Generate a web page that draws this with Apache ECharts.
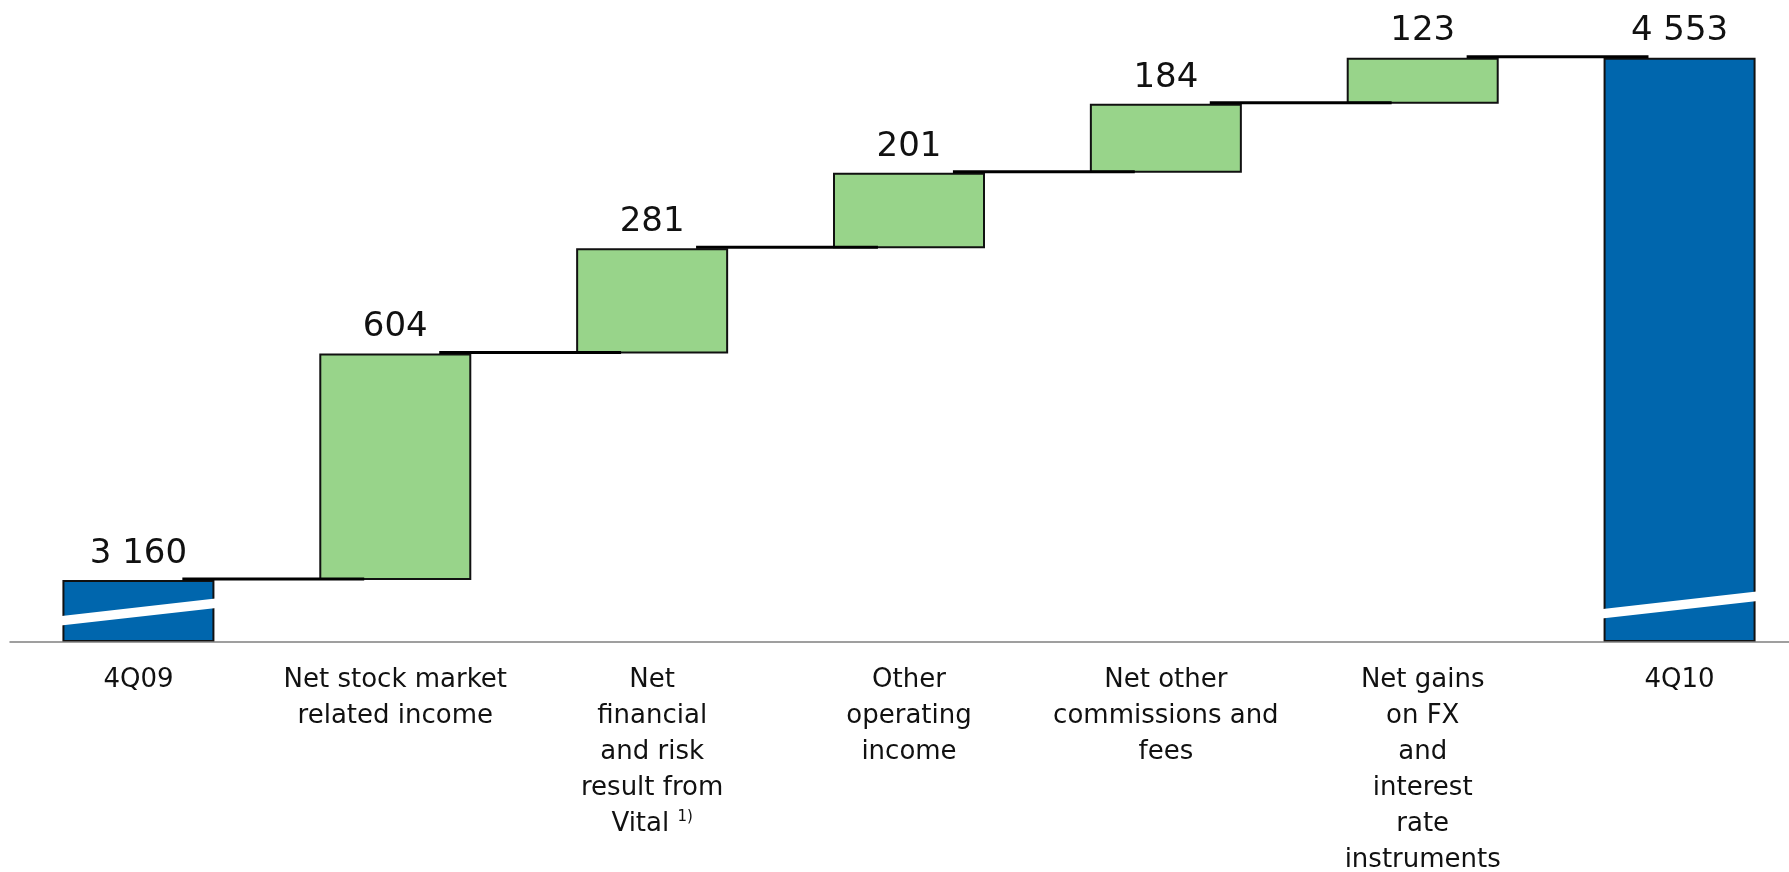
<!DOCTYPE html>
<html>
<head>
<meta charset="utf-8">
<title>4Q09 – 4Q10 income bridge</title>
<script src="https://cdn.jsdelivr.net/npm/echarts@6/dist/echarts.min.js"></script>
<style>
  html, body { margin: 0; padding: 0; background: #fff; }
  #chart { width: 1789px; height: 872px; }
</style>
</head>
<body>
<div id="chart"></div>
<script>
// Bridge categories (x axis), the bar values and which bars are totals
const categories = [
  '4Q09',
  'Net stock market\nrelated income',
  'Net\nfinancial\nand risk\nresult from\nVital {sup|1)}',
  'Other\noperating\nincome',
  'Net other\ncommissions and\nfees',
  'Net gains\non FX\nand\ninterest\nrate\ninstruments',
  '4Q10'
];
const barValues = [3160, 604, 281, 201, 184, 123, 4553];
const isTotal = [true, false, false, false, false, false, true];

// Broken value axis: bars start from this value instead of zero
const AXIS_MIN = 2995;
const AXIS_MAX = 4600;

const BLUE = '#0066AD';
const GREEN = '#98D48A';
const FONT = 'DejaVu Sans';

function fmt(v) {
  return String(v).replace(/\B(?=(\d{3})+(?!\d))/g, ' ');
}

// Build the invisible base and visible part of each waterfall bar
const baseData = [];
const visibleData = [];
const levels = [];            // running level at the top of each bar
let running = 0;
barValues.forEach((v, i) => {
  if (isTotal[i]) {
    baseData.push(AXIS_MIN);
    visibleData.push({ value: v - AXIS_MIN, itemStyle: { color: BLUE } });
    running = v;
  } else {
    baseData.push(running);
    visibleData.push({ value: v, itemStyle: { color: GREEN } });
    running += v;
  }
  levels.push(running);
});

// Connector lines between consecutive bar tops
const connectorData = levels.slice(0, -1).map((lv, i) => [i, lv]);

// Axis-break stripes on the total bars: [category index, lift above axis at bar centre in px]
const breakData = isTotal.map((t, i) => t ? i : null).filter(i => i !== null)
  .map((i, k) => [i, k === 0 ? 30 : 37]);

const chart = echarts.init(document.getElementById('chart'), null, { renderer: 'canvas' });

chart.setOption({
  animation: false,
  backgroundColor: '#ffffff',
  grid: { left: 10, right: -19, top: 40, bottom: 230, containLabel: false, outerBoundsMode: 'none' },
  xAxis: {
    type: 'category',
    data: categories,
    axisLine: { show: true, lineStyle: { color: '#808080', width: 1.5 } },
    axisTick: { show: false },
    axisLabel: {
      interval: 0,
      margin: 20,
      color: '#111',
      fontFamily: FONT,
      fontSize: 26,
      lineHeight: 36,
      rich: {
        sup: { fontFamily: FONT, fontSize: 15, color: '#111', verticalAlign: 'top', lineHeight: 36, padding: [4, 0, 0, 0] }
      }
    },
    z: 10
  },
  yAxis: {
    type: 'value',
    min: AXIS_MIN,
    max: AXIS_MAX,
    show: false,
    splitLine: { show: false }
  },
  series: [
    {
      name: 'base',
      type: 'bar',
      stack: 'bridge',
      barWidth: 152,
      silent: true,
      itemStyle: { color: 'rgba(0,0,0,0)', borderWidth: 0 },
      data: baseData
    },
    {
      name: 'value',
      type: 'bar',
      stack: 'bridge',
      barWidth: 152,
      itemStyle: { borderColor: '#111', borderWidth: 2 },
      label: {
        show: true,
        position: 'top',
        distance: 6,
        fontFamily: FONT,
        fontSize: 34,
        lineHeight: 40,
        color: '#111',
        formatter: p => fmt(barValues[p.dataIndex])
      },
      data: visibleData,
      z: 2
    },
    {
      name: 'connectors',
      type: 'custom',
      silent: true,
      z: 4,
      data: connectorData,
      encode: { x: 0, y: 1 },
      renderItem: (params, api) => {
        const i = api.value(0);
        const lv = api.value(1);
        const a = api.coord([i, lv]);
        const b = api.coord([i + 1, lv]);
        const bw = api.size([1, 0])[0];
        return {
          type: 'line',
          shape: { x1: a[0] + 0.171 * bw, y1: a[1] - 1, x2: b[0] - 0.121 * bw, y2: b[1] - 1 },
          style: { stroke: '#000', lineWidth: 3 }
        };
      }
    },
    {
      name: 'breaks',
      type: 'custom',
      silent: true,
      z: 6,
      data: breakData,
      renderItem: (params, api) => {
        const i = api.value(0);
        const lift = api.value(1);
        const base = api.coord([i, AXIS_MIN]);
        const half = 152 / 2;
        const slope = 0.113;
        const xl = base[0] - half - 20;
        const xr = base[0] + half + 28;
        const yc = base[1] - lift;
        return {
          type: 'line',
          shape: {
            x1: xl, y1: yc + slope * (base[0] - xl),
            x2: xr, y2: yc - slope * (xr - base[0])
          },
          style: { stroke: '#ffffff', lineWidth: 9.5, lineCap: 'butt' }
        };
      }
    }
  ]
});
</script>
</body>
</html>
